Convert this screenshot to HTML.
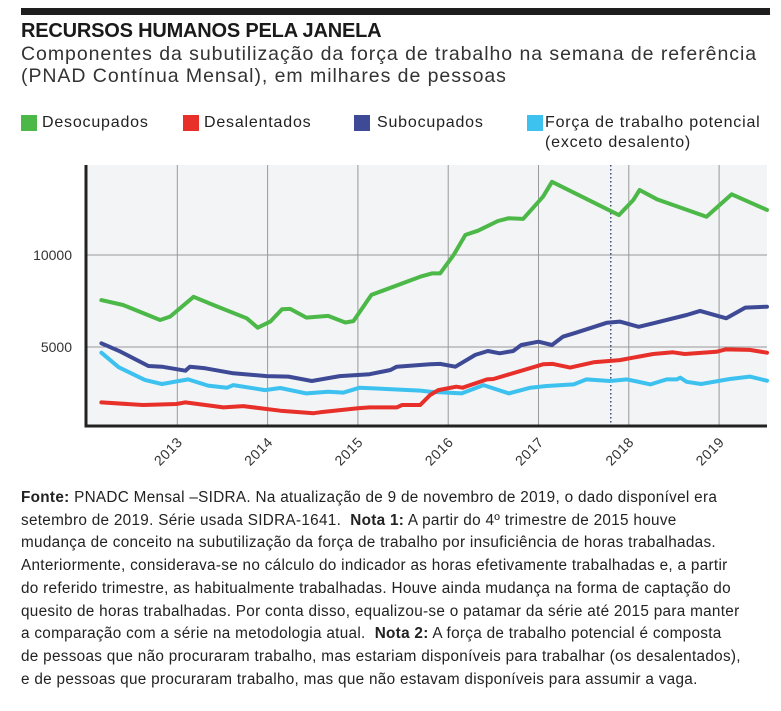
<!DOCTYPE html>
<html><head><meta charset="utf-8"><style>
html,body{margin:0;padding:0;background:#fff;}
body{width:781px;height:711px;position:relative;overflow:hidden;font-family:"Liberation Sans",sans-serif;color:#222;}
.abs{position:absolute;white-space:nowrap;}
#topbar{left:21px;top:8px;width:749px;height:7px;background:#1e1e1e;}
#title{left:21px;top:20px;font-size:20px;font-weight:bold;letter-spacing:-0.2px;color:#1a1a1a;}
#subtitle{left:21px;top:43px;font-size:19.5px;line-height:22px;color:#333;letter-spacing:0.95px;}
.leg{top:113px;font-size:16px;color:#222;line-height:20px;letter-spacing:0.8px;}
.sw{position:absolute;width:16px;height:16px;top:115px;}
#notes{left:21px;top:487px;font-size:15.3px;line-height:22.7px;color:#222;letter-spacing:0.3px;}
#notes b{font-weight:bold;}
</style></head><body>
<div class="abs" id="topbar"></div>
<div class="abs" id="title">RECURSOS HUMANOS PELA JANELA</div>
<div class="abs" id="subtitle">Componentes da subutilização da força de trabalho na semana de referência<br>(PNAD Contínua Mensal), em milhares de pessoas</div>

<div class="sw" style="left:21px;background:#4cb848"></div>
<div class="abs leg" style="left:42px">Desocupados</div>
<div class="sw" style="left:183px;background:#e8302a"></div>
<div class="abs leg" style="left:204px">Desalentados</div>
<div class="sw" style="left:354px;background:#3e4a96"></div>
<div class="abs leg" style="left:377px">Subocupados</div>
<div class="sw" style="left:527px;background:#3dc1ef"></div>
<div class="abs leg" style="left:545px">Força de trabalho potencial<br>(exceto desalento)</div>

<svg id="chart" class="abs" style="left:0;top:0" width="781" height="480"></svg>

<div class="abs" id="notes"><b>Fonte:</b> PNADC Mensal –SIDRA. Na atualização de 9 de novembro de 2019, o dado disponível era<br>setembro de 2019. Série usada SIDRA-1641.&nbsp; <b>Nota 1:</b> A partir do 4º trimestre de 2015 houve<br>mudança de conceito na subutilização da força de trabalho por insuficiência de horas trabalhadas.<br>Anteriormente, considerava-se no cálculo do indicador as horas efetivamente trabalhadas e, a partir<br>do referido trimestre, as habitualmente trabalhadas. Houve ainda mudança na forma de captação do<br>quesito de horas trabalhadas. Por conta disso, equalizou-se o patamar da série até 2015 para manter<br>a comparação com a série na metodologia atual.&nbsp; <b>Nota 2:</b> A força de trabalho potencial é composta<br>de pessoas que não procuraram trabalho, mas estariam disponíveis para trabalhar (os desalentados),<br>e de pessoas que procuraram trabalho, mas que não estavam disponíveis para assumir a vaga.</div>

<script>
const yTicks = [5000, 10000];
const yearTicks = [2013, 2014, 2015, 2016, 2017, 2018, 2019];
const markerYear = 2017.8;

const desocT = [2012.16,2012.40,2012.81,2012.92,2013.18,2013.40,2013.77,2013.89,2014.03,2014.16,2014.25,2014.43,2014.67,2014.86,2014.95,2015.15,2015.69,2015.82,2015.91,2016.06,2016.19,2016.33,2016.55,2016.67,2016.83,2017.05,2017.15,2017.89,2018.05,2018.12,2018.31,2018.86,2019.14,2019.53];
const desocV = [7550,7280,6470,6650,7730,7280,6560,6050,6380,7050,7070,6600,6690,6330,6410,7830,8820,9000,9000,10000,11090,11320,11850,12000,11960,13170,13980,12170,12990,13530,13030,12080,13300,12450];

const desalT = [2012.16,2012.62,2012.99,2013.09,2013.51,2013.73,2014.14,2014.51,2014.58,2015.00,2015.13,2015.43,2015.49,2015.69,2015.80,2015.89,2016.09,2016.16,2016.43,2016.50,2017.05,2017.16,2017.35,2017.61,2017.90,2018.27,2018.49,2018.62,2018.97,2019.07,2019.34,2019.53];
const desalV = [1990,1850,1900,1990,1720,1790,1540,1400,1450,1670,1720,1720,1850,1850,2390,2660,2840,2790,3240,3260,4060,4080,3880,4170,4290,4620,4710,4620,4740,4870,4840,4690];

const subT = [2012.16,2012.37,2012.68,2012.83,2013.09,2013.14,2013.31,2013.62,2013.99,2014.23,2014.49,2014.80,2015.13,2015.36,2015.43,2015.80,2015.91,2016.08,2016.30,2016.44,2016.57,2016.72,2016.81,2017.00,2017.15,2017.27,2017.42,2017.76,2017.90,2018.11,2018.27,2018.64,2018.79,2019.08,2019.29,2019.53];
const subV = [5200,4750,3970,3930,3710,3930,3840,3570,3420,3390,3150,3420,3520,3750,3930,4060,4080,3930,4570,4780,4660,4780,5110,5290,5110,5560,5780,6320,6380,6100,6290,6740,6960,6560,7140,7190];

const potT = [2012.16,2012.35,2012.64,2012.83,2013.12,2013.34,2013.55,2013.62,2013.97,2014.14,2014.43,2014.67,2014.84,2015.02,2015.69,2015.80,2016.15,2016.39,2016.67,2016.91,2017.09,2017.39,2017.53,2017.79,2017.98,2018.24,2018.42,2018.53,2018.57,2018.64,2018.80,2019.12,2019.34,2019.53];
const potV = [4690,3900,3210,2990,3240,2900,2790,2930,2660,2770,2480,2570,2520,2790,2630,2570,2480,2930,2480,2790,2880,2970,3240,3150,3240,2970,3240,3240,3330,3110,2990,3260,3390,3170];

const NS = "http://www.w3.org/2000/svg";
const svg = document.getElementById('chart');
const L = 86, R = 767, T = 165, B = 426;
function xs(t){ return 177.3 + (t - 2013) * 90.3; }
function ys(v){ return 439 - v * 0.0184; }
function mk(tag, attrs){ const e = document.createElementNS(NS, tag); for (const k in attrs) e.setAttribute(k, attrs[k]); svg.appendChild(e); return e; }

const bg = mk('rect', {x:L, y:T, width:R-L, height:B-T, fill:'#f2f4f6'});



yearTicks.forEach(function(y){
  const g = mk('line', {x1:xs(y), x2:xs(y), y1:T, y2:B, stroke:'#999', 'stroke-width':1});
  
  
  const tx = mk('text', {x:0, y:0, 'font-size':14, fill:'#333', 'text-anchor':'end', 'letter-spacing':0.5, 'font-family':'Liberation Sans, sans-serif', transform:'translate(' + (xs(y) + 6) + ',' + 443 + ') rotate(-45)'});
  tx.textContent = y;
  
  
});
yTicks.forEach(function(v){
  const g = mk('line', {x1:L, x2:R, y1:ys(v), y2:ys(v), stroke:'#999', 'stroke-width':1});
  
  
  const tx = mk('text', {x:72, y:ys(v) + 5, 'font-size':14, fill:'#333', 'text-anchor':'end', 'font-family':'Liberation Sans, sans-serif'});
  tx.textContent = v;
  
  
});
const mkr = mk('line', {x1:xs(markerYear), x2:xs(markerYear), y1:T, y2:B, stroke:'#3e4a7a', 'stroke-width':1.5, 'stroke-dasharray':'1.5,2.5'});



const ax1 = mk('line', {x1:L, x2:L, y1:T, y2:B + 1.5, stroke:'#222', 'stroke-width':3});


const ax2 = mk('line', {x1:L - 1.5, x2:R, y1:B, y2:B, stroke:'#222', 'stroke-width':3});



function series(ts, vs, color){
  let d = '';
  for (let i = 0; i < ts.length; i++) d += (i ? 'L' : 'M') + xs(ts[i]).toFixed(1) + ',' + ys(vs[i]).toFixed(1);
  return mk('path', {d:d, fill:'none', stroke:color, 'stroke-width':4, 'stroke-linejoin':'round', 'stroke-linecap':'round'});
}
const s4 = series(potT, potV, '#3dc1ef');


const s2 = series(desalT, desalV, '#e8302a');


const s3 = series(subT, subV, '#3e4a96');


const s1 = series(desocT, desocV, '#4cb848');


</script>
</body></html>
